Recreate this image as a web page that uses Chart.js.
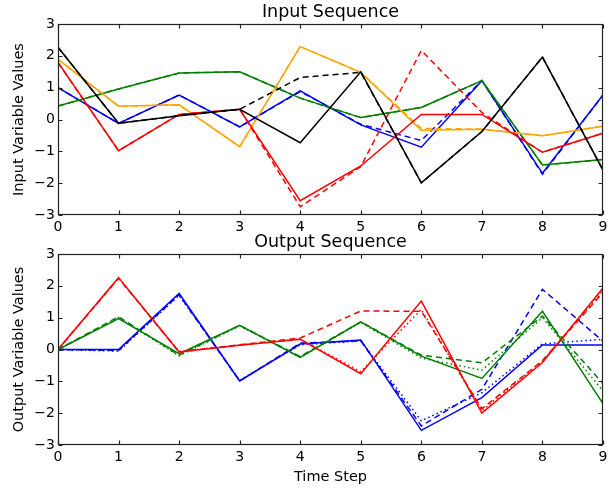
<!DOCTYPE html>
<html>
<head>
<meta charset="utf-8">
<script src="https://cdn.jsdelivr.net/npm/chart.js@4/dist/chart.umd.min.js"></script>
<style>
  html, body { margin: 0; padding: 0; background: #fff; }
  #wrap { position: relative; width: 616px; height: 488px; }
  canvas { position: absolute; left: 0; }
  #input-chart { top: 0; }
  #output-chart { top: 232px; }
</style>
</head>
<body>
<div id="wrap">
  <canvas id="input-chart" width="616" height="232"></canvas>
  <canvas id="output-chart" width="616" height="256"></canvas>
</div>
<script>
// time steps shared by both panels
const timeSteps = [0, 1, 2, 3, 4, 5, 6, 7, 8, 9];
const yTicks = [-3, -2, -1, 0, 1, 2, 3];

// input sequence: original (solid) and altered (dashed)
const blackIn = [2.27, -0.12, 0.12, 0.32, -0.73, 1.50, -1.99, -0.38, 1.96, -1.59];
const blackInAlt = [2.27, -0.12, 0.12, 0.32, 1.32, 1.48, -1.99, -0.38, 1.96, -1.59];
const redIn = [1.79, -0.98, 0.16, 0.32, -2.55, -1.46, 0.16, 0.16, -1.03, -0.43];
const redInAlt = [1.79, -0.98, 0.16, 0.32, -2.74, -1.48, 2.17, 0.22, -1.03, -0.43];
const orangeIn = [1.89, 0.42, 0.46, -0.85, 2.29, 1.48, -0.34, -0.31, -0.51, -0.21];
const orangeInAlt = [1.89, 0.42, 0.46, -0.85, 2.29, 1.48, -0.28, -0.30, -0.51, -0.21];
const greenIn = [0.42, 0.96, 1.46, 1.50, 0.67, 0.06, 0.38, 1.22, -1.43, -1.26];
const greenInAlt = [0.42, 0.96, 1.46, 1.50, 0.67, 0.06, 0.38, 1.22, -1.43, -1.26];
const blueIn = [1.00, -0.12, 0.77, -0.23, 0.90, -0.17, -0.87, 1.22, -1.69, 0.77];
const blueInAlt = [1.00, -0.12, 0.77, -0.23, 0.88, -0.15, -0.66, 1.22, -1.72, 0.77];

// output sequence: solid, dashed and dotted variants
const redOut = [0, 2.26, -0.08, 0.13, 0.32, -0.76, 1.52, -2.00, -0.41, 1.93];
const redOutDash = [0, 2.24, -0.08, 0.15, 0.36, 1.21, 1.20, -1.86, -0.35, 1.79];
const redOutDot = [0, 2.24, -0.06, 0.14, 0.33, -0.70, 1.26, -1.92, -0.36, 1.85];
const greenOut = [0, 0.97, -0.13, 0.76, -0.25, 0.87, -0.21, -0.91, 1.20, -1.70];
const greenOutDash = [0, 1.03, -0.18, 0.76, -0.22, 0.87, -0.18, -0.42, 1.05, -1.07];
const greenOutDot = [0, 1.00, -0.20, 0.74, -0.24, 0.85, -0.27, -0.65, 1.00, -1.30];
const blueOut = [0, 0.00, 1.76, -0.99, 0.17, 0.30, -2.54, -1.51, 0.14, 0.14];
const blueOutDash = [0, -0.03, 1.72, -0.99, 0.20, 0.27, -2.40, -1.25, 1.89, 0.26];
const blueOutDot = [0, -0.05, 1.70, -0.97, 0.15, 0.27, -2.24, -1.36, 0.18, 0.32];

const FONT = 'DejaVu Sans';
const DASHED = [6, 4];
const DOTTED = [1.5, 3];

function series(values, color, dash) {
  return {
    data: timeSteps.map((t, i) => ({ x: t, y: values[i] })),
    borderColor: color,
    borderWidth: 1.5,
    borderDash: dash || [],
    pointRadius: 0,
    fill: false,
    tension: 0
  };
}

const minus = v => (v < 0 ? '\u2212' + Math.abs(v) : String(v));

// frame with inward ticks on all four sides, matplotlib classic look
const frameTicks = {
  id: 'frameTicks',
  afterDatasetsDraw(chart) {
    const { ctx, chartArea: a, scales: { x, y } } = chart;
    const L = Math.round(a.left) + 0.5, R = Math.round(a.right) - 0.5;
    const T = Math.round(a.top) + 0.5, B = Math.round(a.bottom) - 0.5;
    ctx.save();
    ctx.strokeStyle = '#222';
    ctx.lineWidth = 1.2;
    ctx.beginPath();
    timeSteps.forEach(t => {
      const px = Math.round(x.getPixelForValue(t)) + 0.5;
      ctx.moveTo(px, B); ctx.lineTo(px, B - 4);
      ctx.moveTo(px, T); ctx.lineTo(px, T + 4);
    });
    yTicks.forEach(v => {
      const py = Math.round(y.getPixelForValue(v)) + 0.5;
      ctx.moveTo(L, py); ctx.lineTo(L + 4, py);
      ctx.moveTo(R, py); ctx.lineTo(R - 4, py);
    });
    ctx.stroke();
    ctx.strokeRect(L, T, R - L, B - T);
    ctx.restore();
  }
};

function panelOptions(title, yLabel, xLabel, xHeight, titlePad) {
  return {
    responsive: false,
    animation: false,
    layout: { padding: { left: 0, right: 13, top: 0, bottom: 0 } },
    plugins: {
      legend: { display: false },
      tooltip: { enabled: false },
      title: {
        display: true,
        text: title,
        fullSize: false,
        color: '#000',
        font: { family: FONT, size: 17.5, weight: 'normal', lineHeight: 1.2 },
        padding: titlePad
      }
    },
    scales: {
      x: {
        type: 'linear',
        min: 0,
        max: 9,
        grid: { display: false, drawTicks: false },
        border: { display: false },
        afterBuildTicks: s => { s.ticks = timeSteps.map(v => ({ value: v })); },
        afterFit: s => { s.height = xHeight; },
        ticks: {
          color: '#000',
          padding: 4,
          maxRotation: 0,
          autoSkip: false,
          font: { family: FONT, size: 14 }
        },
        title: {
          display: !!xLabel,
          text: xLabel,
          color: '#000',
          font: { family: FONT, size: 14.5 },
          padding: { top: 0, bottom: 2 }
        }
      },
      y: {
        min: -3,
        max: 3,
        grid: { display: false, drawTicks: false },
        border: { display: false },
        afterBuildTicks: s => { s.ticks = yTicks.map(v => ({ value: v })); },
        afterFit: s => { s.width = 58; },
        ticks: {
          color: '#000',
          padding: 3,
          font: { family: FONT, size: 14 },
          callback: v => minus(v)
        },
        title: {
          display: true,
          text: yLabel,
          color: '#000',
          font: { family: FONT, size: 14.5 },
          padding: { top: 11, bottom: 0 }
        }
      }
    }
  };
}

new Chart(document.getElementById('input-chart'), {
  type: 'line',
  data: {
    datasets: [
      series(blackIn, '#000000'),
      series(blackInAlt, '#000000', DASHED),
      series(redIn, '#ff0000'),
      series(redInAlt, '#ff0000', DASHED),
      series(orangeIn, '#ffa500'),
      series(orangeInAlt, '#ffa500', DASHED),
      series(greenIn, '#008000'),
      series(greenInAlt, '#008000', DASHED),
      series(blueIn, '#0000ff'),
      series(blueInAlt, '#0000ff', DASHED)
    ]
  },
  options: panelOptions('Input Sequence', 'Input Variable Values', '', 17, { top: 2, bottom: 1 }),
  plugins: [frameTicks]
});

new Chart(document.getElementById('output-chart'), {
  type: 'line',
  data: {
    datasets: [
      series(redOut, '#ff0000'),
      series(redOutDash, '#ff0000', DASHED),
      series(redOutDot, '#ff0000', DOTTED),
      series(greenOut, '#008000'),
      series(greenOutDash, '#008000', DASHED),
      series(greenOutDot, '#008000', DOTTED),
      series(blueOut, '#0000ff'),
      series(blueOutDash, '#0000ff', DASHED),
      series(blueOutDot, '#0000ff', DOTTED)
    ]
  },
  options: panelOptions('Output Sequence', 'Output Variable Values', 'Time Step', 43, { top: 0, bottom: 1 }),
  plugins: [frameTicks]
});
</script>
</body>
</html>
